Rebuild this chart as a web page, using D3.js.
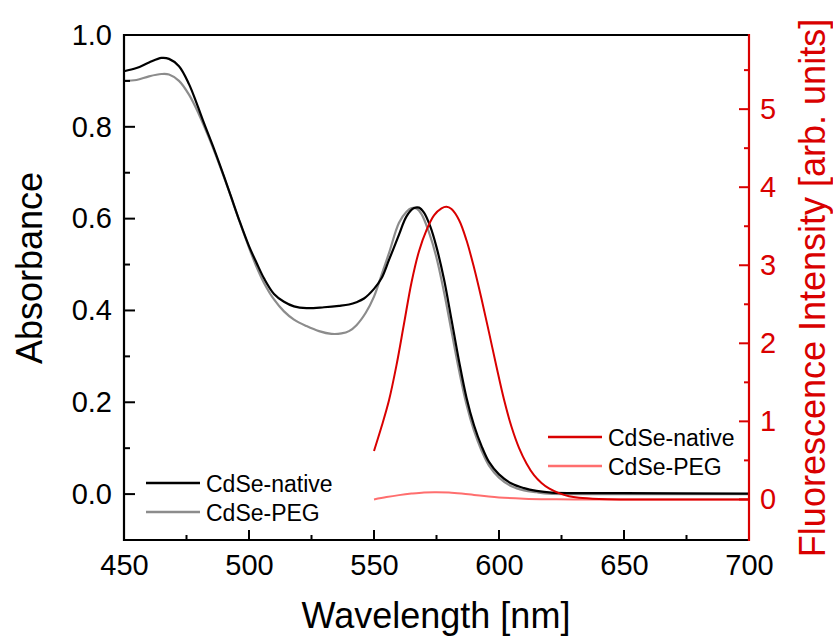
<!DOCTYPE html>
<html>
<head>
<meta charset="utf-8">
<script src="https://cdn.jsdelivr.net/npm/d3@7"></script>
<style>
  body { margin: 0; background: #fff; }
  svg { font-family: "Liberation Sans", Arial, sans-serif; }
</style>
</head>
<body>
<svg id="chart" width="833" height="637"></svg>
<script>
// absorbance, CdSe-native
const absNativeWl = [450, 455, 460, 465, 468, 472, 476, 479, 482, 486, 490, 493, 496, 500, 503, 506, 510, 514, 518, 523, 530, 536, 540, 543, 546, 550, 553, 556, 560, 563, 566, 568, 570, 572.5, 575, 578, 581, 584, 587, 590, 593, 596, 600, 605, 610, 615, 621, 630, 650, 700];
const absNative = [0.921, 0.928, 0.940, 0.950, 0.948, 0.932, 0.893, 0.852, 0.808, 0.752, 0.692, 0.645, 0.598, 0.54, 0.504, 0.47, 0.436, 0.419, 0.409, 0.405, 0.407, 0.410, 0.413, 0.418, 0.426, 0.447, 0.47, 0.51, 0.565, 0.605, 0.623, 0.624, 0.613, 0.583, 0.538, 0.468, 0.38, 0.29, 0.21, 0.15, 0.105, 0.07, 0.043, 0.023, 0.013, 0.007, 0.003, 0.002, 0.002, 0.001];

// absorbance, CdSe-PEG
const absPegWl = [450, 455, 460, 465, 468, 472, 476, 480, 484, 488, 492, 496, 500, 503, 506, 510, 514, 518, 523, 528, 533, 537, 540, 543, 546.7, 550, 553.3, 556, 560, 563, 565, 567, 569, 572, 575, 578, 581, 584, 587, 590, 593, 596, 600, 605, 610, 615, 620, 630, 700];
const absPeg = [0.90, 0.902, 0.910, 0.915, 0.914, 0.90, 0.87, 0.827, 0.776, 0.72, 0.66, 0.597, 0.537, 0.495, 0.46, 0.424, 0.398, 0.38, 0.366, 0.355, 0.349, 0.350, 0.355, 0.368, 0.395, 0.43, 0.482, 0.525, 0.591, 0.615, 0.623, 0.622, 0.61, 0.57, 0.515, 0.44, 0.355, 0.27, 0.195, 0.138, 0.095, 0.062, 0.036, 0.017, 0.008, 0.004, 0.001, 0.0, 0.0];

// fluorescence, CdSe-native
const flNativeWl = [550, 553, 556, 559, 562, 565, 568, 571, 574, 577, 579, 581, 584, 587, 590, 593, 596, 599, 602, 605, 608, 611, 614, 617, 620, 624, 628, 632, 640, 650, 700];
const flNative = [0.62, 0.93, 1.27, 1.72, 2.25, 2.78, 3.18, 3.45, 3.64, 3.73, 3.75, 3.72, 3.58, 3.32, 2.97, 2.57, 2.14, 1.70, 1.28, 0.93, 0.66, 0.46, 0.31, 0.21, 0.14, 0.08, 0.04, 0.02, 0.005, 0.0, 0.0];

// fluorescence, CdSe-PEG
const flPegWl = [550, 555, 560, 565, 570, 575, 580, 585, 590, 595, 600, 610, 620, 630, 700];
const flPeg = [0.0, 0.03, 0.055, 0.075, 0.09, 0.093, 0.088, 0.075, 0.058, 0.04, 0.025, 0.01, 0.003, 0.0, 0.0];

const xTicks = [450, 500, 550, 600, 650, 700];
const xMinor = [475, 525, 575, 625, 675];
const yLeftTicks = [0.0, 0.2, 0.4, 0.6, 0.8, 1.0];
const yLeftMinor = [0.1, 0.3, 0.5, 0.7, 0.9];
const yRightTicks = [0, 1, 2, 3, 4, 5];
const yRightMinor = [0.5, 1.5, 2.5, 3.5, 4.5, 5.5];

const RED = "#d90000";
const PINK = "#ff6e6e";
const GRAY = "#8c8c8c";

const svg = d3.select("#chart");
const plotL = 124, plotR = 749, plotT = 35, plotB = 540;

const x = d3.scaleLinear().domain([450, 700]).range([plotL, plotR]);
const yA = d3.scaleLinear().domain([-0.1, 1.0]).range([plotB, plotT]);
const yF = d3.scaleLinear().domain([-0.52, 5.95]).range([plotB, plotT]);

function zip(wl, v) { return wl.map((w, i) => [w, v[i]]); }

const lineA = d3.line().x(d => x(d[0])).y(d => yA(d[1])).curve(d3.curveCatmullRom);
const lineF = d3.line().x(d => x(d[0])).y(d => yF(d[1])).curve(d3.curveCatmullRom);

// curves
svg.append("path").attr("d", lineF(zip(flPegWl, flPeg)))
  .attr("fill", "none").attr("stroke", PINK).attr("stroke-width", 2);
svg.append("path").attr("d", lineA(zip(absPegWl, absPeg)))
  .attr("fill", "none").attr("stroke", GRAY).attr("stroke-width", 2.2);
svg.append("path").attr("d", lineA(zip(absNativeWl, absNative)))
  .attr("fill", "none").attr("stroke", "#000").attr("stroke-width", 2.2);
svg.append("path").attr("d", lineF(zip(flNativeWl, flNative)))
  .attr("fill", "none").attr("stroke", RED).attr("stroke-width", 2);

// tick labels through d3 axes (tick lines drawn below)
function labels(g, color) {
  g.selectAll(".domain").remove();
  g.selectAll(".tick line").remove();
  g.selectAll("text").attr("fill", color).attr("font-size", 29);
}
svg.append("g").attr("transform", `translate(0,${plotB})`)
  .call(d3.axisBottom(x).tickValues(xTicks).tickSize(0).tickPadding(14).tickFormat(d3.format("d")))
  .call(g => labels(g, "#000"));
svg.append("g").attr("transform", `translate(${plotL},0)`)
  .call(d3.axisLeft(yA).tickValues(yLeftTicks).tickSize(0).tickPadding(12).tickFormat(d3.format(".1f")))
  .call(g => labels(g, "#000"));
svg.append("g").attr("transform", `translate(${plotR},0)`)
  .call(d3.axisRight(yF).tickValues(yRightTicks).tickSize(0).tickPadding(11).tickFormat(d3.format("d")))
  .call(g => labels(g, RED));

// inward tick marks
function xTickMarks(vals, len) {
  svg.append("g").selectAll("line").data(vals).join("line")
    .attr("x1", d => x(d)).attr("x2", d => x(d))
    .attr("y1", plotB).attr("y2", plotB - len)
    .attr("stroke", "#000").attr("stroke-width", 2);
}
function yTickMarks(scale, vals, x0, dir, len, color) {
  svg.append("g").selectAll("line").data(vals).join("line")
    .attr("x1", x0).attr("x2", x0 + dir * len)
    .attr("y1", d => scale(d)).attr("y2", d => scale(d))
    .attr("stroke", color).attr("stroke-width", 2);
}
xTickMarks(xTicks, 10);
xTickMarks(xMinor, 5);
yTickMarks(yA, yLeftTicks, plotL, 1, 11, "#000");
yTickMarks(yA, yLeftMinor, plotL, 1, 6, "#000");
yTickMarks(yF, yRightTicks, plotR, -1, 10, RED);
yTickMarks(yF, yRightMinor, plotR, -1, 5, RED);

// frame
svg.append("path").attr("d", `M${plotR},${plotT}H${plotL}V${plotB}H${plotR}`)
  .attr("fill", "none").attr("stroke", "#000").attr("stroke-width", 2.2);
svg.append("path").attr("d", `M${plotR},${plotT - 1}V${plotB + 1}`)
  .attr("fill", "none").attr("stroke", RED).attr("stroke-width", 2.2);

// axis titles
svg.append("text").attr("x", 436).attr("y", 628).attr("text-anchor", "middle")
  .attr("font-size", 36).text("Wavelength [nm]");
svg.append("text").attr("transform", "translate(42,268) rotate(-90)").attr("text-anchor", "middle")
  .attr("font-size", 36).text("Absorbance");
svg.append("text").attr("transform", "translate(825,288) rotate(-90)").attr("text-anchor", "middle")
  .attr("font-size", 36).attr("fill", RED).text("Fluorescence Intensity [arb. units]");

// legends
const legLeft = [{ name: "CdSe-native", color: "#000" }, { name: "CdSe-PEG", color: GRAY }];
const legRight = [{ name: "CdSe-native", color: RED }, { name: "CdSe-PEG", color: PINK }];

function legend(items, lx, ly) {
  items.forEach((it, i) => {
    const yy = ly + i * 29;
    svg.append("line").attr("x1", lx).attr("x2", lx + 54).attr("y1", yy).attr("y2", yy)
      .attr("stroke", it.color).attr("stroke-width", 2.5);
    svg.append("text").attr("x", lx + 60).attr("y", yy + 8.5).attr("font-size", 23)
      .attr("fill", "#000").text(it.name);
  });
}
legend(legLeft, 146, 483);
legend(legRight, 548, 437);
</script>
</body>
</html>
